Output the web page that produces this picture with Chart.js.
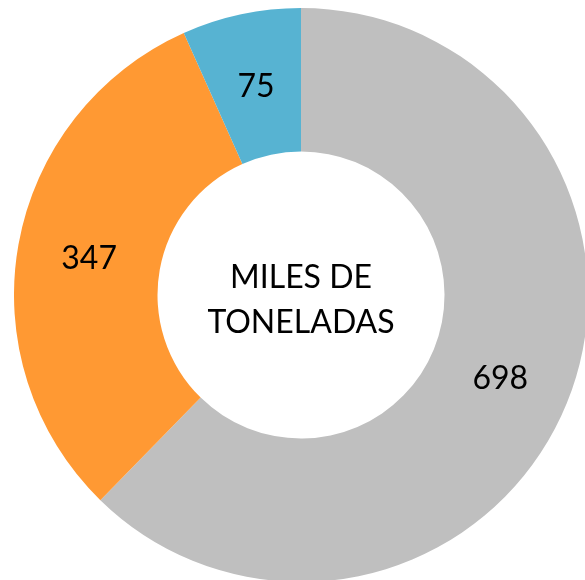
<!DOCTYPE html>
<html>
<head>
<meta charset="utf-8">
<script src="https://cdn.jsdelivr.net/npm/chart.js@4"></script>
<style>
  html, body { margin: 0; padding: 0; background: #fff; }
  body { width: 585px; height: 580px; overflow: hidden; position: relative; }
  #wrap { position: absolute; left: 14px; top: 8px; width: 574px; height: 574px; }
</style>
</head>
<body>
<div id="wrap"><canvas id="chart"></canvas></div>
<script>
const categories = ['Gris', 'Naranja', 'Azul'];
const values = [698, 347, 75];
const colors = ['#BFBFBF', '#FF9933', '#57B3D2'];
const centerLines = ['MILES DE', 'TONELADAS'];

// etiquetas de valor en el centro de cada sector + texto del hueco
const labelsPlugin = {
  id: 'labelsPlugin',
  afterDatasetsDraw(chart) {
    const ctx = chart.ctx;
    const meta = chart.getDatasetMeta(0);
    ctx.save();
    ctx.fillStyle = '#000';
    ctx.font = '32px Lato';
    ctx.textAlign = 'center';
    ctx.textBaseline = 'middle';
    meta.data.forEach((arc, i) => {
      const p = arc.getCenterPoint();
      ctx.fillText(String(values[i]), p.x, p.y + 2);
    });
    const c = meta.data[0];
    ctx.fillText(centerLines[0], c.x, c.y - 17);
    ctx.fillText(centerLines[1], c.x, c.y + 28);
    ctx.restore();
  }
};

new Chart(document.getElementById('chart'), {
  type: 'doughnut',
  data: {
    labels: categories,
    datasets: [{
      data: values,
      backgroundColor: colors,
      borderWidth: 0,
    }],
  },
  options: {
    responsive: true,
    maintainAspectRatio: false,
    animation: false,
    cutout: '50%',
    layout: { padding: 0 },
    plugins: {
      legend: { display: false },
      tooltip: { enabled: false },
    },
  },
  plugins: [labelsPlugin],
});
</script>
</body>
</html>
